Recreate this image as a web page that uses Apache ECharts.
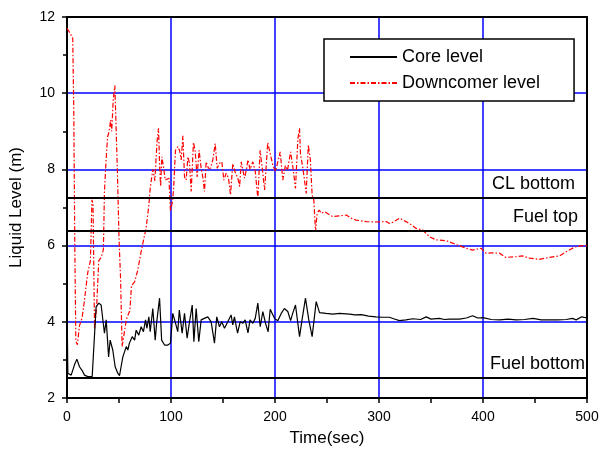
<!DOCTYPE html>
<html>
<head>
<meta charset="utf-8">
<script src="https://cdn.jsdelivr.net/npm/echarts@6/dist/echarts.min.js"></script>
<style>html,body{margin:0;padding:0;background:#fff}#c{width:603px;height:460px}</style>
</head>
<body>
<div id="c"></div>
<script>
// Core level (black solid)
const coreTime = [0,0.8,4,7.2,9.5,12,14.6,16.8,20,24.2,28,30.6,32.8,36,37.7,40,41.5,44,46.3,48.8,50.5,52,53.7,57,58.5,60,62.7,65,66.5,69,71.3,73.5,75.5,76.8,78.7,80,82.5,84.8,86.3,89,91,93.8,97,99.5,101.7,104,106.5,108,110.7,113,115.5,117.8,120.4,122,124.2,126.7,129,132,135.4,138.6,141.8,144,146.6,148.8,151.4,154.6,157.8,159.4,161,164,166.5,169,171.3,174,176,178.7,181,183.5,185.8,188.3,190.9,193.4,195.4,197.3,199.5,202.7,206,209,212.3,215,217,219.7,223.6,226,229.3,232.5,235.7,239.6,242.8,249,255.6,262,271.6,277,283,290,297,303,310,314,319.7,326,332.5,340,345.4,350,358,363,367.8,377.4,384,390,395,400,408,416,424,432,440,448,456,464,472,480,486,489.6,495,500];
const coreLevel = [4.6,2.65,2.6,2.87,3.02,2.82,2.72,2.6,2.56,2.56,4.4,4.49,4.44,3.7,4.05,3.08,3.52,3.26,2.82,2.65,2.59,2.82,3.08,3.35,3.26,3.44,3.61,3.52,3.78,3.65,3.87,3.74,4.05,3.83,4.13,3.74,4.35,3.52,4.0,4.62,3.52,3.39,3.39,3.44,4.22,4.0,3.74,4.31,3.7,4.22,3.57,4.0,4.44,3.48,4.35,3.48,4.05,4.09,4.13,4.0,3.44,4.13,3.87,4.0,3.83,4.0,4.18,3.92,4.13,3.7,4.0,3.96,4.05,3.71,4.05,3.96,4.09,4.49,3.87,4.27,3.96,3.74,4.33,4.22,4.09,4.03,4.22,4.35,4.27,4.03,4.22,4.44,3.61,4.05,4.62,4.05,3.61,4.53,4.24,4.22,4.2,4.22,4.2,4.18,4.19,4.15,4.13,4.12,4.12,4.08,4.03,4.05,4.08,4.06,4.13,4.07,4.09,4.06,4.07,4.07,4.1,4.16,4.1,4.11,4.06,4.05,4.07,4.05,4.06,4.09,4.05,4.05,4.05,4.06,4.09,4.05,4.13,4.1];

// Downcomer level (red dash-dot)
const dcTime = [0,2,4,5.5,6.5,7.5,8.5,10,12,14.5,16.5,18,20,22.5,24,25,26.5,28.5,30.5,33,35,36,37.5,39,40.5,42,43,44.5,46,47,48.5,50,51.5,53,55,57,59,60.5,62,65,68,71,74,76,78.5,80,82.5,84.5,86.5,88,89,90,91.2,93,94.4,96.3,98,99.5,101.7,102.7,104.3,106.6,108.2,109.8,111.4,113,114.6,116.2,117.8,119.4,121.6,123.2,125.1,127,129,130.6,132.2,133.8,136,138,140.2,142.5,144.4,146.6,148.9,150.8,153,155.3,157.2,159.4,162,164,166,167.5,170.7,172.5,174,176,178.7,181,183.5,185.7,187.7,190,193,195,198,200.5,202.7,205,207.5,210,212,215,217.5,219.7,222,223.6,224.5,227,230,232,234,235.7,237.3,239,240.5,242.5,244.5,247.6,255.6,262,268.5,273,278,287.7,297,307,310,314,319.7,326,331,335.8,342,348.6,355,364.6,374,383.8,390,398,403,409,416,422,432,438,444.7,454,464,473.6,480,488,495,500];
const dcLevel = [11.7,11.62,11.52,11.45,9.6,6.0,3.5,3.4,3.9,4.1,4.5,4.85,5.3,5.6,7.2,7.1,3.8,4.4,5.6,5.7,5.9,7.4,8.2,8.85,9.0,9.3,9.0,9.85,10.2,9.3,7.9,6.2,5.15,3.35,3.7,4.05,4.2,4.3,4.95,5.05,5.35,5.8,6.2,6.45,7.0,7.5,8.0,7.7,8.7,9.08,8.15,7.55,8.33,8.03,7.72,7.68,7.77,6.9,7.2,7.6,8.5,8.6,8.5,8.25,8.88,7.8,7.72,8.33,8.16,7.42,8.71,8.5,7.8,8.5,8.03,7.8,7.42,8.2,8.03,8.03,8.25,8.68,8.03,8.16,8.2,7.72,7.9,7.77,7.33,8.15,7.9,7.8,7.55,8.2,7.77,8.0,8.25,8.0,8.2,7.95,7.24,8.5,8.04,7.46,8.7,8.46,8.1,7.95,8.2,8.46,7.72,8.1,7.98,8.46,8.0,7.5,8.8,9.08,8.4,8.0,7.37,8.64,8.25,7.33,7.2,6.37,6.85,6.93,6.85,6.89,6.76,6.78,6.8,6.72,6.67,6.63,6.62,6.63,6.58,6.62,6.72,6.63,6.55,6.45,6.41,6.23,6.15,6.13,6.03,5.93,5.88,5.93,5.8,5.81,5.8,5.69,5.71,5.73,5.67,5.64,5.69,5.73,5.84,5.96,6.0,6.0];

// Reference levels
const refNames = ['CL bottom','Fuel top','Fuel bottom'];
const refLevels = [7.25,6.38,2.52];
const refLabelOffsets = [12,9,2];

const xTicks = [0,100,200,300,400,500];
const yTicks = [2,4,6,8,10,12];

const pairs = (t, v) => t.map((x, i) => [x, v[i]]);
const FONT = '"Liberation Sans", Arial, sans-serif';

const chart = echarts.init(document.getElementById('c'), null, {renderer: 'canvas'});
chart.setOption({
  animation: false,
  backgroundColor: '#fff',
  textStyle: {fontFamily: FONT},
  grid: {left: 67, right: 16, top: 17, bottom: 62, show: false},
  legend: {
    orient: 'vertical',
    left: 324, top: 39,
    padding: [9, 34, 9, 25],
    itemGap: 8,
    itemWidth: 47, itemHeight: 15,
    backgroundColor: '#fff',
    borderColor: '#000', borderWidth: 1.5,
    itemStyle: {opacity: 0},
    textStyle: {fontSize: 18, color: '#000', fontFamily: FONT},
    data: ['Core level', 'Downcomer level']
  },
  xAxis: [{
    type: 'value', min: xTicks[0], max: xTicks[xTicks.length-1], interval: 100,
    name: 'Time(sec)', nameLocation: 'middle', nameGap: 32,
    nameTextStyle: {fontSize: 17, color: '#000'},
    axisLine: {show: true, lineStyle: {color: '#000', width: 2}},
    axisTick: {show: true, inside: false, length: 5, lineStyle: {color: '#000', width: 1.5}},
    minorTick: {show: true, splitNumber: 2, length: 5, lineStyle: {color: '#000', width: 1.5}},
    axisLabel: {fontSize: 14, color: '#000', margin: 12},
    splitLine: {show: true, lineStyle: {color: '#0000ff', width: 1.5}}
  }, {
    type: 'value', position: 'top', min: 0, max: 500,
    axisLine: {show: true, onZero: false, lineStyle: {color: '#000', width: 2}},
    axisTick: {show: false}, axisLabel: {show: false}, splitLine: {show: false}
  }],
  yAxis: [{
    type: 'value', min: yTicks[0], max: yTicks[yTicks.length-1], interval: 2,
    name: 'Liquid Level (m)', nameLocation: 'middle', nameGap: 42,
    nameTextStyle: {fontSize: 17, color: '#000'},
    axisLine: {show: true, lineStyle: {color: '#000', width: 2}},
    axisTick: {show: true, inside: false, length: 5, lineStyle: {color: '#000', width: 1.5}},
    minorTick: {show: true, splitNumber: 2, length: 4, lineStyle: {color: '#000', width: 1.5}},
    axisLabel: {fontSize: 14, color: '#000', margin: 12},
    splitLine: {show: true, lineStyle: {color: '#0000ff', width: 1.5}}
  }, {
    type: 'value', position: 'right', min: 2, max: 12,
    axisLine: {show: true, onZero: false, lineStyle: {color: '#000', width: 2}},
    axisTick: {show: false}, axisLabel: {show: false}, splitLine: {show: false}
  }],
  series: [{
    name: 'Core level', type: 'line', symbol: 'none', showSymbol: false,
    data: pairs(coreTime, coreLevel),
    lineStyle: {color: '#000', width: 1.2},
    itemStyle: {color: '#000'},
    z: 3,
    markLine: {
      silent: true, symbol: 'none', animation: false,
      lineStyle: {color: '#000', width: 2, type: 'solid'},
      label: {show: true, position: 'insideEndTop', fontSize: 18, color: '#000', fontFamily: FONT},
      data: refLevels.map((v, i) => ({
        yAxis: v, name: refNames[i],
        label: {formatter: refNames[i], distance: [refLabelOffsets[i], 5]}
      }))
    }
  }, {
    name: 'Downcomer level', type: 'line', symbol: 'none', showSymbol: false,
    data: pairs(dcTime, dcLevel),
    lineStyle: {color: '#ff0000', width: 1.2, type: [5, 2, 1.5, 2]},
    itemStyle: {color: '#ff0000'},
    z: 2
  }]
});
</script>
</body>
</html>
